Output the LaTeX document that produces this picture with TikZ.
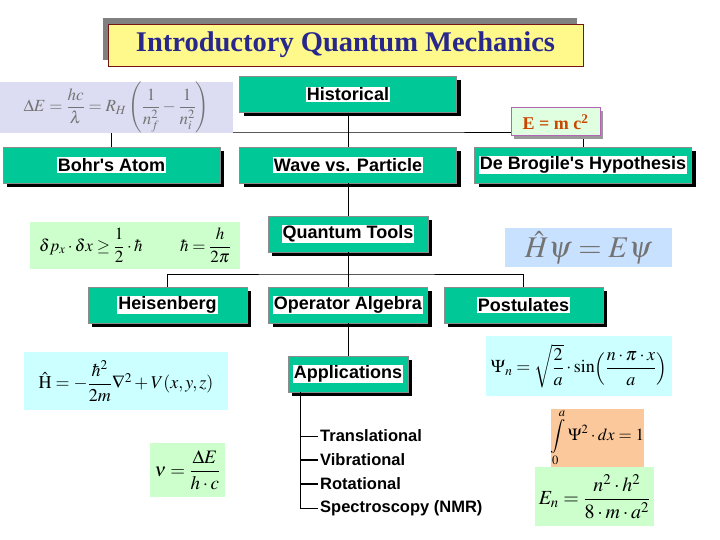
\documentclass[tikz,border=0pt]{standalone}
\usepackage{amsmath}
\usepackage{mathptmx}
\usepackage{fontspec}
\setmainfont{Liberation Serif}
\newfontfamily\arialfont{Liberation Sans}
\usetikzlibrary{shadows}
\definecolor{boxgreen}{RGB}{0,200,150}
\definecolor{titleblue}{RGB}{40,40,140}
\definecolor{titlered}{RGB}{120,20,20}
\definecolor{fgreen}{RGB}{204,255,204}
\definecolor{fcyan}{RGB}{204,255,255}
\definecolor{forange}{RGB}{250,200,155}
\definecolor{flav}{RGB}{220,220,242}
\definecolor{fblue}{RGB}{200,225,255}
\definecolor{emcpurple}{RGB}{180,100,180}
\definecolor{emcorange}{RGB}{200,70,0}
\newcommand{\whitebg}[1]{{\setlength{\fboxsep}{1pt}\colorbox{white}{#1}}}
\tikzset{
  topic/.style={draw=black!45, fill=boxgreen, minimum height=36, inner sep=0pt,
    drop shadow={shadow xshift=4pt, shadow yshift=-4pt, fill=black, opacity=1},
    font=\arialfont\bfseries\fontsize{18}{20}\selectfont},
  formula/.style={inner sep=0pt, font=\fontsize{17}{20}\selectfont},
  listitem/.style={anchor=west, inner sep=2pt, font=\arialfont\bfseries\fontsize{16.5}{18}\selectfont}
}

\begin{document}
\begin{tikzpicture}[x=1pt, y=-1pt]
		%%%%% START %%%%%
		\useasboundingbox (0, 0) rectangle (720, 540);
		
		% title
		\fill[black!50] (103, 18) rectangle (577, 60);
		\node[draw=titlered, fill=yellow!45, minimum width=475, minimum height=42, inner sep=0pt,
		  text=titleblue, font=\bfseries\fontsize{28.5}{30}\selectfont] (title) at (345.5, 45) {Introductory Quantum Mechanics};
		
		% boxes
		\node[topic, minimum width=217] (hist) at (348, 94.5) {\whitebg{Historical}};
		\node[topic, minimum width=217] (bohr) at (111.5, 165) {\whitebg{Bohr's Atom}};
		\node[topic, minimum width=217] (wave) at (348, 165) {\whitebg{Wave vs. Particle}};
		\node[topic, minimum width=217] (debrog) at (583, 165) {\whitebg{De Brogile's Hypothesis}};
		\node[topic, minimum width=160] (tools) at (348, 234) {\whitebg{Quantum Tools}};
		\node[topic, minimum width=159] (heis) at (167.5, 305) {\whitebg{Heisenberg}};
		\node[topic, minimum width=159] (oper) at (348, 305) {\whitebg{Operator Algebra}};
		\node[topic, minimum width=159] (post) at (523.5, 305) {\whitebg{Postulates}};
		\node[topic, minimum width=120] (apps) at (348, 374) {\whitebg{Applications}};
		
		% connectors
		\coordinate (bar1) at (0, 132);
		\coordinate (bar2) at (0, 274);
		\draw[line width=0.8pt] (hist.south) -- (wave.north);
		\draw[line width=0.8pt] (bohr.north) |- (hist.south |- bar1) -| (debrog.north);
		\draw[line width=0.8pt] (wave.south) -- (tools.north);
		\draw[line width=0.8pt] (tools.south) -- (oper.north);
		\draw[line width=0.8pt] (heis.north) |- (tools.south |- bar2) -| (post.north);
		\draw[line width=0.8pt] (oper.south) -- (apps.north);
		
		% applications list
		\node[listitem] (trans) at (318, 436) {Translational};
		\node[listitem] (vib) at (318, 460) {Vibrational};
		\node[listitem] (rot) at (318, 484) {Rotational};
		\node[listitem] (spec) at (318, 508) {Spectroscopy (NMR)};
		\coordinate (trunk) at (300, 392);
		\draw[line width=0.8pt] (trunk) |- (spec.west);
		\draw[line width=0.8pt] (trunk |- trans.west) -- (trans.west);
		\draw[line width=1.2pt] (trunk |- vib.west) -- (vib.west);
		\draw[line width=1.2pt] (trunk |- rot.west) -- (rot.west);
		
		% E = m c^2
		\node[draw=emcpurple, line width=1pt, fill=green!12, minimum width=89, minimum height=28, inner sep=0pt,
		  text=emcorange, font=\bfseries\fontsize{18}{20}\selectfont,
		  drop shadow={shadow xshift=3pt, shadow yshift=-3pt, fill=black!40, opacity=1}] (emc) at (555.5, 122) {E = m c\textsuperscript{2}};
		
		% formulas
		\node[formula, fill=flav, minimum width=233, minimum height=35, text=black!55] (rydb) at (116.5, 107.5)
		  {$\Delta E = \dfrac{hc}{\lambda} = R_H\left(\dfrac{1}{n_f^2}-\dfrac{1}{n_i^2}\right)$};
		\node[formula, fill=fgreen, minimum width=210, minimum height=47] (uncert) at (135, 245.5)
		  {$\delta p_x\cdot\delta x \ge \dfrac{1}{2}\cdot\hbar\hspace{2.2em}\hbar = \dfrac{h}{2\pi}$};
		\node[formula, fill=fblue, minimum width=167, minimum height=39, text=black!55,
		  font=\fontsize{30}{32}\selectfont] (schr) at (588.5, 247.5) {$\hat{H}\psi = E\psi$};
		\node[formula, fill=fcyan, minimum width=204, minimum height=58, font=\fontsize{18}{20}\selectfont] (hamil) at (126, 381)
		  {$\hat{\mathrm{H}} = -\dfrac{\hbar^2}{2m}\nabla^2 + V(x,y,z)$};
		\node[formula, fill=fcyan, minimum width=186, minimum height=60, font=\fontsize{18}{20}\selectfont] (psin) at (579, 366)
		  {$\Psi_n = \sqrt{\dfrac{2}{a}}\cdot\sin\!\left(\dfrac{n\cdot\pi\cdot x}{a}\right)$};
		\node[formula, fill=fgreen, minimum width=75, minimum height=54, font=\fontsize{19}{21}\selectfont] (freq) at (187.5, 470)
		  {$\nu = \dfrac{\Delta E}{h\cdot c}$};
		\node[formula, fill=forange, minimum width=89, minimum height=58] (norm) at (597.5, 438)
		  {$\displaystyle\int\limits_0^a \Psi^2\cdot dx = 1$};
		\node[formula, fill=fgreen, minimum width=119, minimum height=59, font=\fontsize{20}{22}\selectfont] (energy) at (594.5, 496.5)
		  {$E_n = \dfrac{n^2\cdot h^2}{8\cdot m\cdot a^2}$};
		
		%%%%% END %%%%%
\end{tikzpicture}
\end{document}
